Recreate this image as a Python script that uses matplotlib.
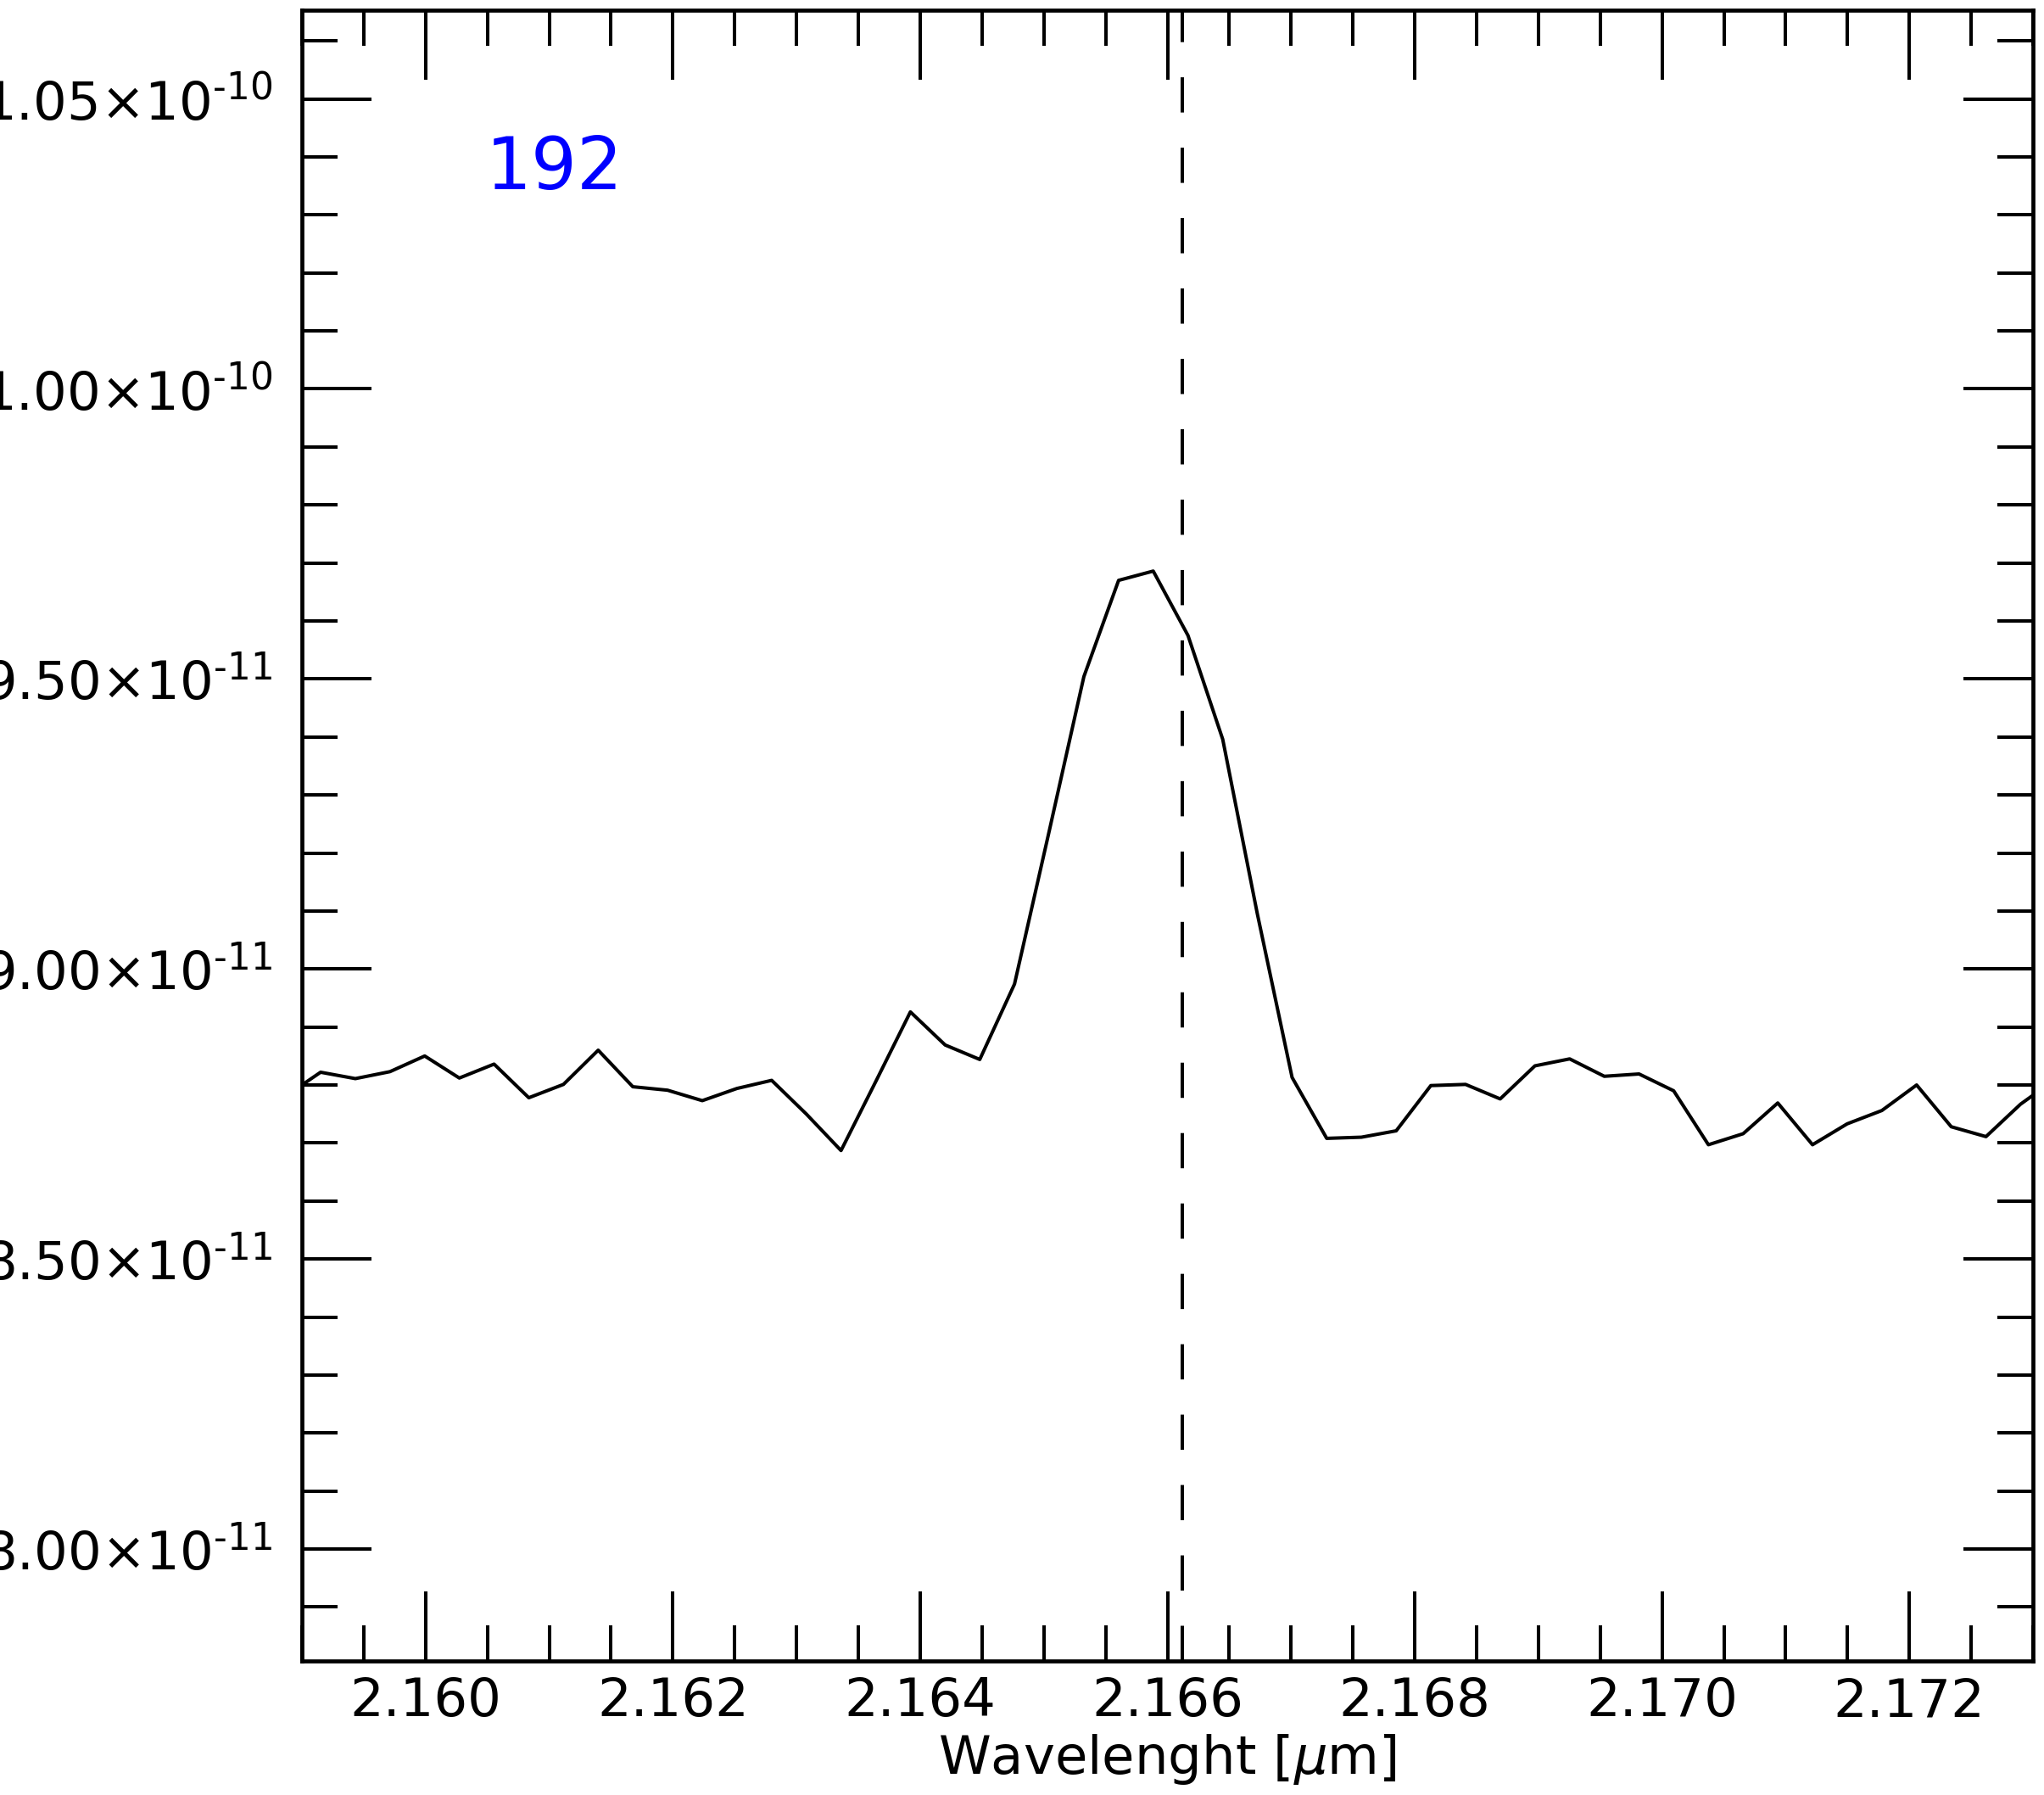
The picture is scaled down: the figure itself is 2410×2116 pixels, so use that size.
import matplotlib
matplotlib.use('Agg')
import matplotlib.pyplot as plt
from matplotlib.ticker import MultipleLocator, FuncFormatter

# spectrum around Br-gamma (flux in units of 1e-11)
wavelength = [2.158870, 2.159151, 2.159432, 2.159712, 2.159993, 2.160273,
              2.160554, 2.160835, 2.161115, 2.161396, 2.161676, 2.161957,
              2.162238, 2.162518, 2.162799, 2.163079, 2.163360, 2.163641,
              2.163921, 2.164202, 2.164482, 2.164763, 2.165044, 2.165324,
              2.165605, 2.165885, 2.166166, 2.166447, 2.166727, 2.167008,
              2.167288, 2.167569, 2.167850, 2.168130, 2.168411, 2.168691,
              2.168972, 2.169253, 2.169533, 2.169814, 2.170094, 2.170375,
              2.170656, 2.170936, 2.171217, 2.171497, 2.171778, 2.172059,
              2.172339, 2.172620, 2.172900, 2.173181]
flux = [8.781, 8.822, 8.811, 8.823, 8.850, 8.812,
        8.836, 8.778, 8.801, 8.860, 8.797, 8.791,
        8.773, 8.794, 8.808, 8.750, 8.687, 8.806,
        8.926, 8.869, 8.844, 8.974, 9.238, 9.504,
        9.670, 9.686, 9.575, 9.396, 9.095, 8.813,
        8.708, 8.710, 8.721, 8.799, 8.801, 8.776,
        8.833, 8.845, 8.815, 8.819, 8.790, 8.697,
        8.716, 8.769, 8.697, 8.733, 8.756, 8.800,
        8.728, 8.711, 8.767, 8.810]
flux_unit = 1e-11
line_center = 2.16612
label = '192'

HYPHEN = '\u2010'


def sci_label(v, pos):
    # literal multiplication sign -> no extra operator spacing in mathtext
    m, e = f'{v:.2e}'.split('e')
    return '$' + m + '\u00d710^{' + HYPHEN + str(abs(int(e))) + '}$'


fig = plt.figure(figsize=(24.10, 21.16), dpi=100)
ax = fig.add_axes([356 / 2410, 158 / 2116, 2041 / 2410, 1946 / 2116])

ax.plot(wavelength, [f * flux_unit for f in flux], color='black', lw=2.9)
ax.axvline(line_center, color='black', lw=2.9, linestyle=(0, (10.3, 10.3)))

ax.set_xlim(2.159, 2.173)
ax.set_ylim(7.807e-11, 1.0653e-10)

ax.xaxis.set_major_locator(MultipleLocator(0.002))
ax.xaxis.set_minor_locator(MultipleLocator(0.0005))
ax.yaxis.set_major_locator(MultipleLocator(0.5e-11))
ax.yaxis.set_minor_locator(MultipleLocator(0.1e-11))
ax.xaxis.set_major_formatter(FuncFormatter(lambda v, p: f'{v:.3f}'))
ax.yaxis.set_major_formatter(FuncFormatter(sci_label))

ax.tick_params(which='both', direction='in', top=True, right=True, width=2.9)
ax.tick_params(which='major', length=59, labelsize=45)
ax.tick_params(which='minor', length=30)
ax.tick_params(axis='x', which='major', pad=13)
ax.tick_params(axis='y', which='major', pad=25)
for s in ax.spines.values():
    s.set_linewidth(3.4)

ax.set_xlabel(r'Wavelenght [$\mu$m]', fontsize=45, labelpad=4)
ax.text(0.106, 0.8916, label, transform=ax.transAxes, color='blue',
        fontsize=61, ha='left', va='baseline')

fig.savefig('out.png', dpi=100)
